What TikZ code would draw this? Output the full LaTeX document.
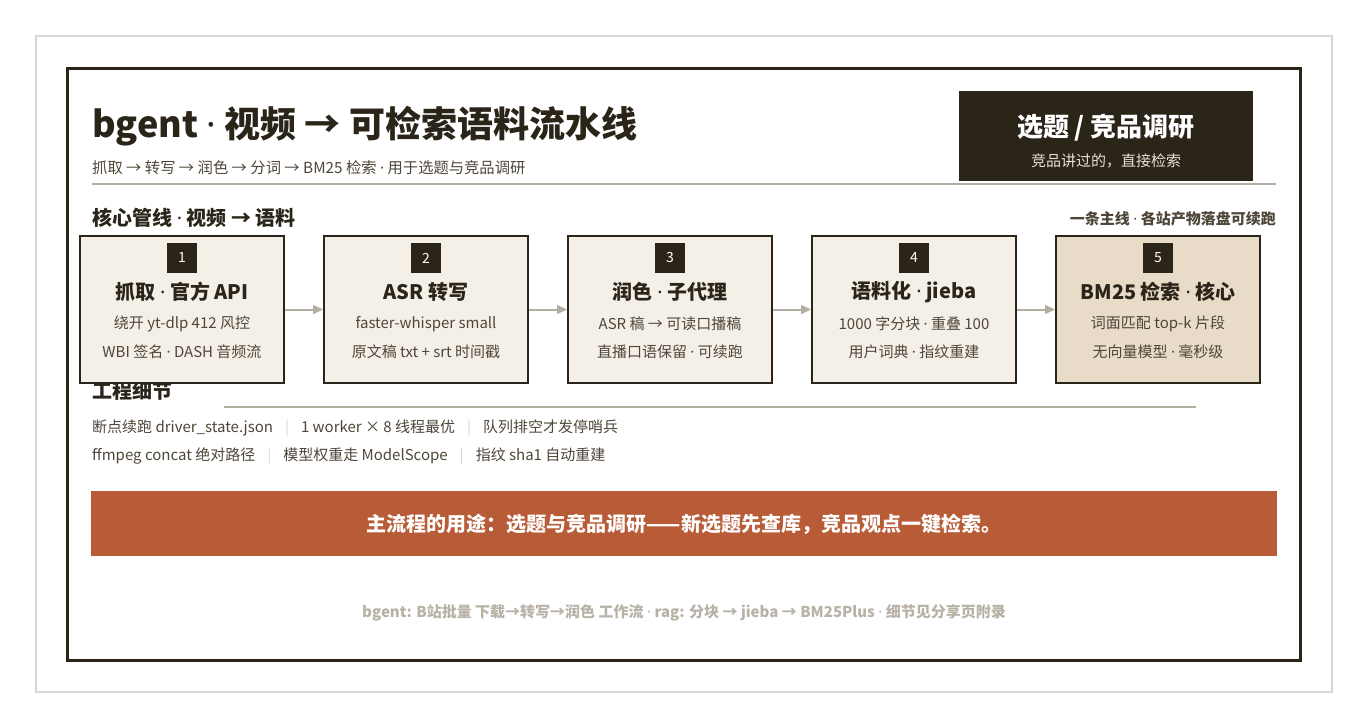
\documentclass[tikz,border=0pt]{standalone}
\usepackage{fontspec}
\setmainfont{Noto Sans CJK SC}
\newfontfamily\latinfont{Noto Sans}
\newcommand\md{{\latinfont ·}}
\newcommand\sepbar{\hspace{12pt}\textcolor{frame}{|}\hspace{12pt}}
\usetikzlibrary{arrows.meta}

\definecolor{ink}{HTML}{2B2419}
\definecolor{muted}{HTML}{4F463A}
\definecolor{rule}{HTML}{B3AEA2}
\definecolor{cream}{HTML}{F4F0E8}
\definecolor{sand}{HTML}{E8DCC8}
\definecolor{rust}{HTML}{B85C38}
\definecolor{faint}{HTML}{B8B2A6}
\definecolor{frame}{HTML}{D9D7D2}
\definecolor{pale}{HTML}{E8E0D0}

\begin{document}
\begin{tikzpicture}[x=1pt, y=-1pt, every node/.style={text=ink, inner sep=0pt}]
    \tikzstyle{stage}=[rectangle, draw=ink, line width=2pt, minimum width=204pt, minimum height=147pt]
    \tikzstyle{badge}=[rectangle, fill=ink, minimum size=30pt, text=white, font=\fontsize{14}{16}\selectfont]
    \tikzstyle{head}=[font=\fontsize{20}{24}\selectfont\bfseries]
    \tikzstyle{note}=[text=muted, font=\fontsize{15}{18}\selectfont]
    \tikzstyle{flow}=[draw=rule, line width=2pt, -{Triangle[length=10pt, width=9pt]}]
    \tikzstyle{hair}=[draw=rule, line width=2pt]
    \tikzstyle{section}=[anchor=west, font=\fontsize{20}{24}\selectfont\bfseries]

    % Page and frames
    \useasboundingbox (0,0) rectangle (1368,728);
    \fill[white] (0,0) rectangle (1368,728);
    \draw[frame, line width=2pt] (36,36) rectangle (1332,692);
    \draw[ink, line width=3pt] (67,68) rectangle (1300,660);

    % Title block
    \node[anchor=west, font=\fontsize{36}{42}\selectfont\bfseries] (Title) at (92,126)
        {bgent \md{} 视频 → 可检索语料流水线};
    \node[anchor=west, text=muted, font=\fontsize{15.3}{18}\selectfont] (Subtitle) at (92,168)
        {抓取 → 转写 → 润色 → 分词 → BM25 检索 \md{} 用于选题与竞品调研};
    \draw[hair] (92,184) -- (1276,184);

    % Use case tag
    \node[fill=ink, minimum width=294pt, minimum height=90pt] (Tag) at (1106,136) {};
    \node[text=white, font=\fontsize{26}{30}\selectfont\bfseries] (TagHead) at (1106,128) {选题 / 竞品调研};
    \node[text=pale, font=\fontsize{15}{18}\selectfont] (TagNote) at (1106,161) {竞品讲过的，直接检索};

    % Pipeline heading
    \node[section] (PipeHead) at (92,218) {核心管线 \md{} 视频 → 语料};
    \node[anchor=east, text=muted, font=\fontsize{15}{18}\selectfont\bfseries] (PipeNote) at (1276,219)
        {一条主线 \md{} 各站产物落盘可续跑};

    % Engineering details heading (sits under the stages)
    \node[section] (EngHead) at (92,391) {工程细节};
    \draw[hair] (224,407) -- (1196,407);

    % Stages
    \foreach \i/\x/\tint/\head/\la/\lb in {
        1/182/cream/{抓取 \md{} 官方 API}/{绕开 yt-dlp 412 风控}/{WBI 签名 \md{} DASH 音频流},
        2/426/cream/{ASR 转写}/{faster-whisper small}/{原文稿 txt + srt 时间戳},
        3/670/cream/{润色 \md{} 子代理}/{ASR 稿 → 可读口播稿}/{直播口语保留 \md{} 可续跑},
        4/914/cream/{语料化 \md{} jieba}/{1000 字分块 \md{} 重叠 100}/{用户词典 \md{} 指纹重建},
        5/1158/sand/{BM25 检索 \md{} 核心}/{词面匹配 top-k 片段}/{无向量模型 \md{} 毫秒级}}
    {
        \node[stage, fill=\tint] (S-\i) at (\x,309.5) {};
        \node[badge] (N-\i) at (\x,258) {\i};
        \node[head] (H-\i) at (\x,292) {\head};
        \node[note] (A-\i) at (\x,324) {\la};
        \node[note] (B-\i) at (\x,352) {\lb};
    }

    % Connect stages
    \foreach \a/\b in {1/2,2/3,3/4,4/5}
        \draw[flow] (S-\a) -- (S-\b);

    % Engineering details
    \node[note, anchor=west] (Eng-1) at (92,428)
        {断点续跑 driver\_state.json\sepbar 1 worker × 8 线程最优\sepbar 队列排空才发停哨兵};
    \node[note, anchor=west] (Eng-2) at (92,456)
        {ffmpeg concat 绝对路径\sepbar 模型权重走 ModelScope\sepbar 指纹 sha1 自动重建};

    % Banner
    \node[fill=rust, minimum width=1186pt, minimum height=65pt] (Banner) at (684,523.5) {};
    \node[text=white, font=\fontsize{20}{24}\selectfont\bfseries] (BannerText) at (684,524)
        {主流程的用途：选题与竞品调研——新选题先查库，竞品观点一键检索。};

    % Footer
    \node[text=faint, font=\fontsize{15}{18}\selectfont\bfseries] (Footer) at (684,613)
        {bgent: B站批量 下载→转写→润色 工作流 \md{} rag: 分块 → jieba → BM25Plus \md{} 细节见分享页附录};
\end{tikzpicture}
\end{document}
